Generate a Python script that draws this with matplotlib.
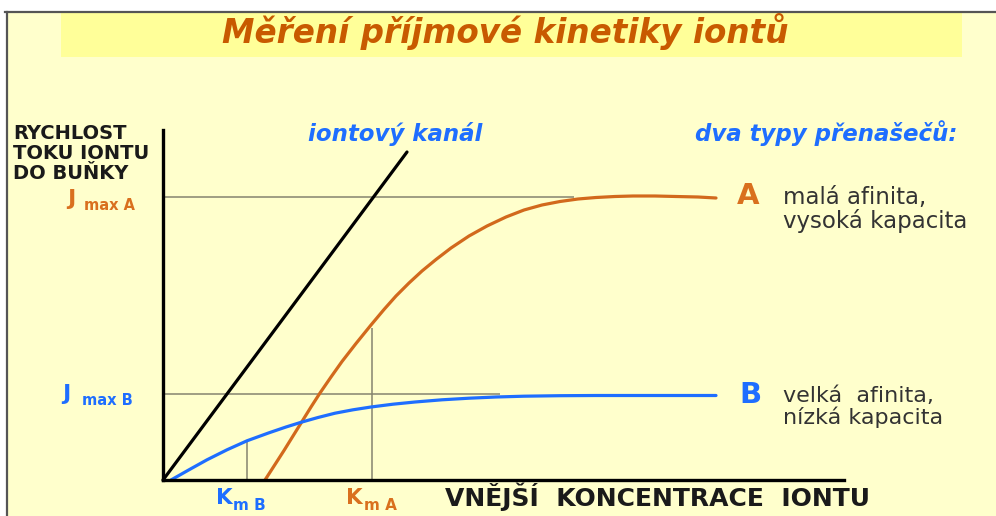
import matplotlib
matplotlib.use("Agg")
import matplotlib.pyplot as plt
from matplotlib.patches import Rectangle
from matplotlib.lines import Line2D

W, H = 996, 516

# curve readings (concentration, rate) in arbitrary units
conc_a = [10.2, 11.2, 12.1, 13.0, 13.9, 14.8, 15.7, 16.8, 17.9, 19.3, 20.8, 22.1, 23.3, 24.6,
          25.9, 27.3, 28.8, 30.6, 32.4, 34.3, 36.1, 37.9, 39.7, 41.5, 43.3, 45.2, 47.0, 49.2,
          51.3, 53.5, 55.3]
rate_a = [0.0, 1.55, 2.95, 4.4, 5.85, 7.3, 8.7, 10.3, 11.85, 13.65, 15.5, 17.05, 18.4, 19.7,
          20.9, 22.05, 23.2, 24.4, 25.4, 26.3, 27.0, 27.5, 27.85, 28.1, 28.25, 28.35, 28.4, 28.4,
          28.35, 28.3, 28.2]

conc_b = [0.8, 2.6, 4.4, 6.4, 8.4, 10.6, 12.3, 13.9, 15.5, 17.2, 19.0, 20.8, 23.0, 25.2,
          27.9, 30.6, 33.3, 36.1, 39.7, 43.3, 55.3]
rate_b = [0.0, 1.02, 2.02, 3.02, 3.92, 4.72, 5.3, 5.8, 6.25, 6.68, 7.02, 7.3, 7.58, 7.8,
          8.02, 8.18, 8.3, 8.38, 8.43, 8.45, 8.45]

conc_channel = [0.0, 24.4]
rate_channel = [0.0, 32.8]

jmax_a, jmax_b = 28.3, 8.6
km_a, km_b = 20.9, 8.4

title = "Měření příjmové kinetiky iontů"
y_label = ["RYCHLOST", "TOKU IONTU", "DO BUŇKY"]
x_label = "VNĚJŠÍ  KONCENTRACE  IONTU"
text_a = ["malá afinita,", "vysoká kapacita"]
text_b = ["velká  afinita,", "nízká kapacita"]

ORANGE = "#D2691C"
ORANGE_TXT = "#D9701E"
BLUE = "#1E6EFF"
GUIDE = "#85846f"
CREAM = "#FFFFCC"
BAND = "#FFFF99"


def px(x, y):
    return x / W, 1 - y / H


fig = plt.figure(figsize=(W / 100, H / 100), dpi=100)
fig.patch.set_facecolor("white")

# slide background, title band, border
fig.patches.append(Rectangle(px(8, 516), (W - 8) / W, (516 - 12) / H,
                             transform=fig.transFigure, facecolor=CREAM, edgecolor="none", zorder=-3))
fig.patches.append(Rectangle(px(61, 57), (962 - 61) / W, (57 - 13) / H,
                             transform=fig.transFigure, facecolor=BAND, edgecolor="none", zorder=-2))
fig.lines.append(Line2D([5 / W, 1], [1 - 12 / H] * 2, transform=fig.transFigure,
                        color="#555555", lw=1.6, zorder=-1))
fig.lines.append(Line2D([7 / W] * 2, [1 - 12 / H, 0], transform=fig.transFigure,
                        color="#555555", lw=1.6, zorder=-1))

# axes box: x 163..844 px, y 130..480 px
x0, y0 = px(163, 480)
x1, y1 = px(844, 130)
ax = fig.add_axes([x0, y0, x1 - x0, y1 - y0])
ax.set_xlim(0, 68.1)
ax.set_ylim(0, 35.0)
ax.patch.set_alpha(0)
for s in ["top", "right"]:
    ax.spines[s].set_visible(False)
for s in ["left", "bottom"]:
    ax.spines[s].set_linewidth(2.4)
    ax.spines[s].set_color("black")
    ax.spines[s].set_zorder(4)
ax.set_xticks([])
ax.set_yticks([])

# guide lines
ax.hlines(jmax_a, 0, 41.1, color=GUIDE, lw=1.1, zorder=1)
ax.hlines(jmax_b, 0, 33.7, color=GUIDE, lw=1.1, zorder=1)
ax.vlines(km_b, 0, 4.0, color=GUIDE, lw=1.1, zorder=1)
ax.vlines(km_a, 0, 15.2, color=GUIDE, lw=1.1, zorder=1)

# curves
kw = dict(lw=2.3, solid_capstyle="round", solid_joinstyle="round", clip_on=False, zorder=3)
ax.plot(conc_channel, rate_channel, color="black", **kw)
ax.plot(conc_a, rate_a, color=ORANGE, **kw)
ax.plot(conc_b, rate_b, color=BLUE, **kw)


def put(x, y, s, **kw):
    fig.text(*px(x, y), s, va="baseline", **kw)


put(505, 43, title, ha="center", fontsize=23.5, fontweight="bold", fontstyle="italic", color="#C85A00")

for i, line in enumerate(y_label):
    put(13, 139 + 20 * i, line, fontsize=14, fontweight="bold", color="#1a1a1a")

put(67, 205, "J", fontsize=16, fontweight="bold", color=ORANGE_TXT)
put(84, 210, "max A", fontsize=10.5, fontweight="bold", color=ORANGE_TXT)
put(62, 400, "J", fontsize=16, fontweight="bold", color=BLUE)
put(82, 405, "max B", fontsize=10.5, fontweight="bold", color=BLUE)
put(216, 504, "K", fontsize=15.5, fontweight="bold", color=BLUE)
put(233, 510, "m B", fontsize=11, fontweight="bold", color=BLUE)
put(346, 504, "K", fontsize=15.5, fontweight="bold", color=ORANGE_TXT)
put(364, 510, "m A", fontsize=11, fontweight="bold", color=ORANGE_TXT)

put(308, 141, "iontový kanál", fontsize=16.5, fontweight="bold", fontstyle="italic", color=BLUE)
put(695, 141, "dva typy přenašečů:", fontsize=16.5, fontweight="bold", fontstyle="italic", color=BLUE)

put(737, 204, "A", fontsize=21, fontweight="bold", color=ORANGE_TXT)
put(783, 204, text_a[0], fontsize=16.5, color="#333333")
put(783, 228, text_a[1], fontsize=16.5, color="#333333")
put(739, 403, "B", fontsize=21, fontweight="bold", color=BLUE)
put(783, 402, text_b[0], fontsize=16, color="#333333")
put(783, 424, text_b[1], fontsize=16, color="#333333")

put(445, 506, x_label, fontsize=18, fontweight="bold", color="#1a1a1a")

fig.savefig("out.png", dpi=100, facecolor=fig.get_facecolor())
